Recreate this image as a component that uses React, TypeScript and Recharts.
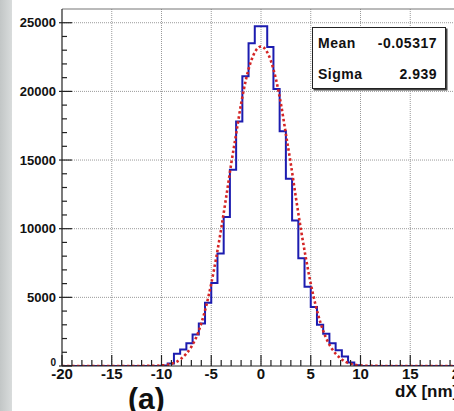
import React from 'react';
import { ComposedChart, Line, XAxis, YAxis, ReferenceLine } from 'recharts';

// histogram: 64 bins of 0.625 nm from -20 to 20
const BIN_LOW = -20;
const BIN_WIDTH = 0.625;
const COUNTS = [
  0, 0, 0, 0, 0, 0, 0, 0, 0, 0, 0, 0, 0, 0, 0, 0,
  40, 180, 900, 1200, 1650, 2300, 3100, 4600,
  6050, 8200, 10850, 14300, 17800, 21100, 23500, 24750,
  24750, 23230, 20170, 17100, 13630, 10590, 7850, 5780,
  4300, 3000, 2350, 1650, 1150, 700, 250, 50,
  0, 0, 0, 0, 0, 0, 0, 0, 0, 0, 0, 0, 0, 0, 0, 0,
];

// gaussian fit
const FIT_X = [-20, -14, -12, -11, -10, -9, -8.5, -8, -7.5, -7, -6.5, -6, -5.5, -5, -4.5, -4, -3.5, -3, -2.5, -2, -1.5, -1, -0.5, 0, 0.5, 1, 1.5, 2, 2.5, 3, 3.5, 4, 4.5, 5, 5.5, 6, 6.5, 7, 7.5, 8, 8.5, 9, 10, 11, 12, 14, 20];
const FIT_Y = [0, 0, 5, 10, 40, 160, 300, 550, 900, 1400, 2100, 3100, 4400, 6000, 7900, 10000, 12300, 14700, 16900, 19100, 20900, 22200, 23000, 23270, 23000, 22200, 20900, 19100, 16900, 14700, 12300, 10000, 7900, 6000, 4400, 3100, 2100, 1400, 900, 550, 300, 160, 40, 10, 5, 0, 0];

const X_TICKS = Array.from({ length: 41 }, (_, i) => i - 20);
const Y_TICKS = Array.from({ length: 26 }, (_, i) => i * 1000);
const X_GRID = [-15, -10, -5, 0, 5, 10, 15];
const Y_GRID = [5000, 10000, 15000, 20000, 25000];

const STATS = [
  { name: 'Mean', value: '-0.05317' },
  { name: 'Sigma', value: '2.939' },
];

const W = 480;
const H = 411;
const TOP = 9;
const XAXIS_H = 45;
const YAXIS_W = 62;
const AXIS_Y = H - XAXIS_H;
const AXIS_X = YAXIS_W;

const FONT = '"Liberation Sans", Arial, sans-serif';

const histData = [
  ...COUNTS.map((c, i) => ({ x: BIN_LOW + i * BIN_WIDTH, y: c })),
  { x: 20, y: COUNTS[COUNTS.length - 1] },
];
const fitData = FIT_X.map((x, i) => ({ x, y: FIT_Y[i] }));

function XTick(props: any) {
  const { x, payload } = props;
  const v = payload.value;
  const major = v % 5 === 0;
  return (
    <g>
      <line x1={x} x2={x} y1={AXIS_Y} y2={AXIS_Y - (major ? 11 : 6)} stroke="#222" strokeWidth={1.2} />
      {major && (
        <text x={x} y={AXIS_Y + 13} textAnchor="middle" fontSize={15} fontWeight="bold" fill="#111" fontFamily={FONT}>
          {v}
        </text>
      )}
    </g>
  );
}

function YTick(props: any) {
  const { y, payload } = props;
  const v = payload.value;
  const major = v % 5000 === 0;
  return (
    <g>
      <line x1={major ? AXIS_X - 3 : AXIS_X} x2={AXIS_X + (major ? 10 : 5)} y1={y} y2={y} stroke="#222" strokeWidth={1.2} />
      {major && (
        <text x={AXIS_X - 6} y={v === 0 ? y - 0.5 : y + 4.5} textAnchor="end" fontSize={v === 0 ? 10 : 13} fontWeight="bold" fill="#111" fontFamily={FONT}>
          {v}
        </text>
      )}
    </g>
  );
}

export default function App() {
  return (
    <div style={{ position: 'absolute', left: 0, top: 0, width: 454, height: 411, overflow: 'hidden', background: '#fff', fontFamily: FONT }}>
      <div style={{ position: 'absolute', left: 0, top: 0, width: 12, height: 411, background: 'linear-gradient(to right, #c2c6c6, #d9dcdc)' }} />
      <div style={{ position: 'absolute', left: 0, top: 0 }}>
        <ComposedChart width={W} height={H} margin={{ top: TOP, right: 20, bottom: 0, left: 0 }}>
          <XAxis
            dataKey="x"
            type="number"
            domain={[-20, 20]}
            ticks={X_TICKS}
            interval={0}
            height={XAXIS_H}
            tickLine={false}
            tickSize={0}
            tick={<XTick />}
            axisLine={{ stroke: '#222', strokeWidth: 1.2 }}
            allowDataOverflow
          />
          <YAxis
            type="number"
            domain={[0, 26000]}
            ticks={Y_TICKS}
            interval={0}
            width={YAXIS_W}
            tickLine={false}
            tickSize={0}
            tick={<YTick />}
            axisLine={{ stroke: '#222', strokeWidth: 1.2 }}
            allowDataOverflow
          />
          {X_GRID.map((v) => (
            <ReferenceLine key={'gx' + v} x={v} stroke="#9a9a9a" strokeDasharray="1 1" />
          ))}
          {Y_GRID.map((v) => (
            <ReferenceLine key={'gy' + v} y={v} stroke="#9a9a9a" strokeDasharray="1 1" />
          ))}
          <ReferenceLine y={26000} stroke="#777" strokeWidth={1.2} />
          <Line
            data={histData}
            dataKey="y"
            type="stepAfter"
            stroke="#1c1cb0"
            strokeWidth={2}
            dot={false}
            isAnimationActive={false}
          />
          <Line
            data={fitData}
            dataKey="y"
            type="monotone"
            stroke="#d42525"
            strokeWidth={2.6}
            strokeDasharray="2.5 2.5"
            dot={false}
            isAnimationActive={false}
          />
        </ComposedChart>
      </div>
      <div
        style={{
          position: 'absolute', left: 312, top: 27, width: 132, height: 60,
          border: '1.5px solid #222', boxShadow: '1.5px 1.5px 0 #444', background: '#fff',
          fontSize: 14, fontWeight: 'bold', letterSpacing: 0.5, color: '#111',
        }}
      >
        {STATS.map((s, i) => (
          <div key={s.name} style={{ position: 'absolute', left: 5, right: 8, top: 7 + i * 31, display: 'flex', justifyContent: 'space-between', lineHeight: '16px' }}>
            <span>{s.name}</span>
            <span>{s.value}</span>
          </div>
        ))}
      </div>
      <div style={{ position: 'absolute', left: 128, top: 384, fontSize: 30, fontWeight: 'bold', lineHeight: 1, color: '#111' }}>(a)</div>
      <div style={{ position: 'absolute', left: 395, top: 383, fontSize: 17, fontWeight: 'bold', lineHeight: 1, color: '#111', whiteSpace: 'nowrap' }}>dX [nm]</div>
    </div>
  );
}
